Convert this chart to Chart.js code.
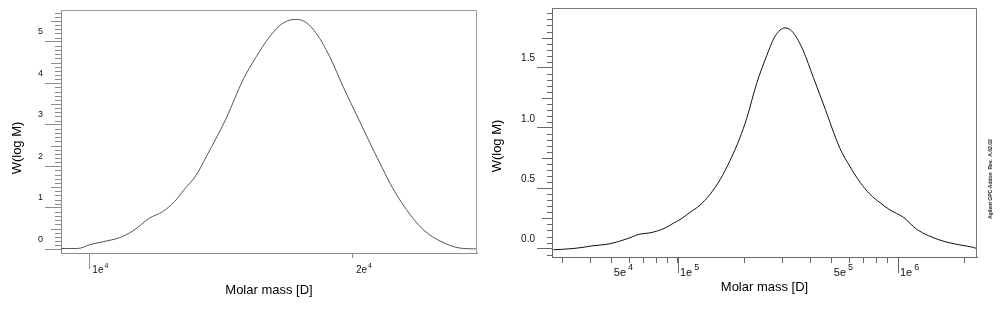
<!DOCTYPE html>
<html>
<head>
<meta charset="utf-8">
<script src="https://cdn.jsdelivr.net/npm/chart.js@4"></script>
<style>
  html, body { margin: 0; padding: 0; background: #fff; }
  body { position: relative; width: 1000px; height: 317px; overflow: hidden; font-family: "Liberation Sans", Arial, sans-serif; }
  canvas { position: absolute; top: 0; }
  #left { left: 0; }
  #right { left: 480px; }
  #stamp { position: absolute; left: 990px; top: 179px; transform: translate(-50%, -50%) rotate(-90deg);
           font: bold 5px "Liberation Sans", Arial, sans-serif; white-space: nowrap; color: #111; }
</style>
</head>
<body>
<canvas id="left" width="480" height="317"></canvas>
<canvas id="right" width="520" height="317"></canvas>
<div id="stamp">Agilent GPC-Addon&nbsp; Rev.&nbsp; A.02.02</div>
<script>
// left sample: molar mass [D] vs W(log M)
const leftMass = [9282, 9697, 10045, 10356, 10823, 11207, 11714, 12130, 12512, 12845, 13248, 13600,
  14336, 14977, 15512, 16065, 16640, 17236, 17694, 18170, 18820, 19490, 20280, 20920, 21470, 22040,
  22630, 23420, 24170, 25150, 26500, 27640];
const leftW = [0.02, 0.02, 0.12, 0.18, 0.28, 0.44, 0.75, 0.91, 1.15, 1.45, 1.79, 2.23,
  3.16, 4.08, 4.64, 5.12, 5.45, 5.54, 5.46, 5.20, 4.64, 3.92, 3.16, 2.56, 2.08, 1.60,
  1.19, 0.75, 0.44, 0.20, 0.03, 0.01];
const leftYTicks = [0, 1, 2, 3, 4, 5];
const leftYLabels = ['0', '1', '2', '3', '4', '5'];
const leftXTicks = [10000, 20000];
const leftXLabels = ['1e4', '2e4'];

// right sample
const rightMass = [27120, 33320, 37010, 39810, 49090, 58470, 67190, 74590, 87290, 95200,
  102100, 113400, 125900, 139800, 155200, 172400, 191300, 205300, 227900, 253100,
  276100, 306500, 334300, 371200, 412100, 457600, 545000, 605000, 672000,
  746000, 828500, 919600, 1057000, 1216000, 1552000, 1913000, 2199000, 2279000];
const rightW = [-0.01, 0.0, 0.01, 0.02, 0.04, 0.08, 0.12, 0.13, 0.17, 0.21,
  0.24, 0.30, 0.36, 0.45, 0.57, 0.73, 0.92, 1.08, 1.37, 1.60,
  1.76, 1.83, 1.79, 1.64, 1.42, 1.20, 0.83, 0.68, 0.55,
  0.45, 0.38, 0.32, 0.26, 0.16, 0.07, 0.03, 0.01, 0.0];
const rightYTicks = [0, 0.5, 1.0, 1.5];
const rightYLabels = ['0.0', '0.5', '1.0', '1.5'];
const rightXTicks = [30000, 40000, 50000, 60000, 70000, 80000, 90000, 100000, 200000, 300000,
  400000, 500000, 600000, 700000, 800000, 900000, 1000000, 2000000];
const rightXLabels = ['', '', '5e4', '', '', '', '', '1e5', '', '', '', '5e5', '', '', '', '', '1e6', ''];

const xTitle = 'Molar mass [D]';
const yTitle = 'W(log M)';
const FAM = '"Liberation Sans", Arial, Helvetica, sans-serif';

Chart.defaults.font.family = FAM;

// minor ticks, long x ticks, the box and the y title
const axisDecor = {
  id: 'axisDecor',
  afterDraw(chart, args, o) {
    const ctx = chart.ctx;
    const xs = chart.scales.x, ys = chart.scales.y;
    const a = chart.chartArea;
    ctx.save();
    ctx.lineWidth = 1;
    ctx.strokeStyle = o.tickColor;
    ctx.beginPath();
    const n0 = Math.ceil(ys.min / o.yMinor - 1e-6), n1 = Math.floor(ys.max / o.yMinor + 1e-6);
    for (let i = n0; i <= n1; i++) {
      const v = i * o.yMinor;
      const r = v / o.yMajor;
      if (Math.abs(r - Math.round(r)) < 1e-6) continue;
      const m = v / o.yMedium;
      const len = Math.abs(m - Math.round(m)) < 1e-6 ? o.medLen : o.minLen;
      const py = Math.round(ys.getPixelForValue(v)) + 0.5;
      ctx.moveTo(a.left - len, py);
      ctx.lineTo(a.left, py);
    }
    o.xLong.forEach(v => {
      const px = Math.round(xs.getPixelForValue(v)) + 0.5;
      ctx.moveTo(px, a.bottom);
      ctx.lineTo(px, a.bottom + o.xLongLen);
    });
    ctx.stroke();

    ctx.strokeStyle = o.frameColor;
    ctx.beginPath();
    ctx.moveTo(a.left, Math.round(a.top) + 0.5);
    ctx.lineTo(Math.round(a.right) - 0.5, Math.round(a.top) + 0.5);
    ctx.lineTo(Math.round(a.right) - 0.5, a.bottom);
    ctx.stroke();

    // x labels like 1e4 drawn with a raised exponent
    ctx.fillStyle = '#111';
    ctx.textAlign = 'left';
    ctx.textBaseline = 'alphabetic';
    o.xLabels.forEach((lab, i) => {
      if (!lab) return;
      const [mant, exp] = lab.split('e');
      const x = xs.getPixelForValue(o.xTicks[i]) + o.dx;
      ctx.font = o.size + 'px ' + FAM;
      ctx.fillText(mant + 'e', x, xs.top + o.baseDy);
      const w = ctx.measureText(mant + 'e').width;
      ctx.font = o.expSize + 'px ' + FAM;
      ctx.fillText(exp, x + w + o.gap, xs.top + o.expDy);
    });

    ctx.translate(o.titleX, o.titleY);
    ctx.rotate(-Math.PI / 2);
    ctx.font = '13px ' + FAM;
    ctx.fillStyle = '#000';
    ctx.textAlign = 'center';
    ctx.textBaseline = 'middle';
    ctx.fillText(yTitle, 0, 0);
    ctx.restore();
  }
};

function buildChart(id, s) {
  return new Chart(document.getElementById(id), {
    type: 'line',
    data: {
      datasets: [{
        data: s.mass.map((m, i) => ({ x: m, y: s.w[i] })),
        borderColor: s.lineColor,
        borderWidth: 1,
        pointRadius: 0,
        cubicInterpolationMode: 'monotone',
        fill: false
      }]
    },
    options: {
      responsive: false,
      animation: false,
      devicePixelRatio: 1,
      layout: { padding: s.pad },
      plugins: {
        legend: { display: false },
        tooltip: { enabled: false },
        axisDecor: Object.assign({ xTicks: s.xTicks, xLabels: s.xLabels }, s.decor)
      },
      scales: {
        x: {
          type: 'logarithmic',
          min: s.xMin, max: s.xMax,
          afterBuildTicks: sc => { sc.ticks = s.xTicks.map(v => ({ value: v })); },
          afterFit: sc => { sc.height = s.xH; },
          grid: { drawOnChartArea: false, tickLength: s.xTickLen, tickColor: s.axisColor },
          border: { color: s.axisColor },
          // labels are painted by axisDecor so the exponent can be raised
          ticks: { autoSkip: false, maxRotation: 0, minRotation: 0, callback: () => '' },
          title: { display: true, text: xTitle, color: '#000', font: { size: 13 }, padding: { top: 0, bottom: s.titlePad } }
        },
        y: {
          min: s.yMin, max: s.yMax,
          afterBuildTicks: sc => { sc.ticks = s.yTicks.map(v => ({ value: v })); },
          afterFit: sc => { sc.width = s.yW; },
          grid: { drawOnChartArea: false, tickLength: s.yTickLen, tickColor: s.axisColor },
          border: { color: s.axisColor },
          ticks: {
            labelOffset: s.yLabelOffset, padding: 2, color: '#111',
            font: { size: s.yFont },
            callback: (v, i) => s.yLabels[i]
          }
        }
      }
    },
    plugins: [axisDecor]
  });
}

buildChart('left', {
  mass: leftMass, w: leftW, lineColor: '#555',
  xMin: 9282, xMax: 27720, xTicks: leftXTicks, xLabels: leftXLabels,
  yMin: -0.089, yMax: 5.766, yTicks: leftYTicks, yLabels: leftYLabels,
  pad: { left: 0, right: 3, top: 10, bottom: 0 },
  xH: 64, yW: 61, xTickLen: 5, yFont: 9, yTickLen: 16, yLabelOffset: -10,
  titlePad: 19, axisColor: '#8c8c8c',
  decor: { tickColor: '#8c8c8c', frameColor: '#9a9a9a', yMinor: 0.1, yMedium: 0.5, yMajor: 1,
           medLen: 10, minLen: 6, xLong: [10000], xLongLen: 16, titleX: 17, titleY: 148,
           size: 10, expSize: 7, dx: 3, gap: 1, baseDy: 19.5, expDy: 15 }
});

buildChart('right', {
  mass: rightMass, w: rightW, lineColor: '#111',
  xMin: 26750, xMax: 2286000, xTicks: rightXTicks, xLabels: rightXLabels,
  yMin: -0.07, yMax: 1.995, yTicks: rightYTicks, yLabels: rightYLabels,
  pad: { left: 0, right: 23, top: 7, bottom: 0 },
  xH: 60, yW: 72, xTickLen: 6, yFont: 10, yTickLen: 15, yLabelOffset: -9,
  titlePad: 22, axisColor: '#666',
  decor: { tickColor: '#666', frameColor: '#777', yMinor: 0.05, yMedium: 0.25, yMajor: 0.5,
           medLen: 10, minLen: 5, xLong: [100000, 1000000], xLongLen: 16, titleX: 17, titleY: 146,
           size: 11, expSize: 9, dx: 2, gap: 2, baseDy: 19, expDy: 13 }
});
</script>
</body>
</html>
